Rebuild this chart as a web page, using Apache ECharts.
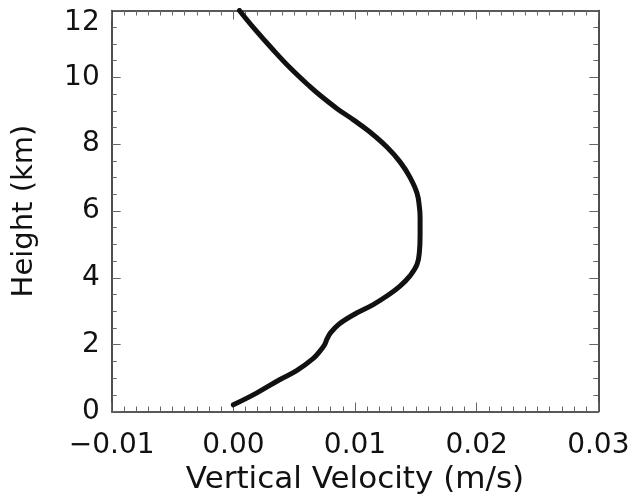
<!DOCTYPE html>
<html>
<head>
<meta charset="utf-8">
<script src="https://cdn.jsdelivr.net/npm/echarts@6/dist/echarts.min.js"></script>
<style>html,body{margin:0;padding:0;background:#fff;}#c{width:635px;height:503px;}</style>
</head>
<body>
<div id="c"></div>
<script>
// Data
var heights = [0.2, 0.55, 0.95, 1.22, 1.58, 1.8, 2.0, 2.17, 2.36, 2.62, 2.94, 3.2, 3.5, 3.75, 4.05, 4.4, 4.8, 5.3, 5.8, 6.1, 6.53, 7.02, 7.47, 7.92, 8.37, 8.72, 9.07, 9.47, 9.72, 10.27, 10.81, 11.51, 12.0];
var velocities = [0.0000, 0.0019, 0.0038, 0.0052, 0.00655, 0.0071, 0.0075, 0.0077, 0.0080, 0.0087, 0.0101, 0.0115, 0.0128, 0.0137, 0.0145, 0.0151, 0.0153, 0.01535, 0.01535, 0.0153, 0.0151, 0.0145, 0.0137, 0.0126, 0.0112, 0.0099, 0.0085, 0.0071, 0.0063, 0.0047, 0.0033, 0.0016, 0.0005];
var xTicks = [-0.01, 0.00, 0.01, 0.02, 0.03];
var yTicks = [0, 2, 4, 6, 8, 10, 12];
var xName = 'Vertical Velocity (m/s)';
var yName = 'Height (km)';

var pts = heights.map(function (h, i) { return [velocities[i], h]; });
var FONT = 'DejaVu Sans';
var axisLineStyle = { color: '#222', width: 1.6 };
var tickStyle = { color: '#666', width: 1 };

function xAxisCfg(pos, showLabels) {
  return {
    type: 'value', position: pos,
    min: xTicks[0], max: xTicks[xTicks.length - 1], interval: 0.01,
    name: showLabels ? xName : '', nameLocation: 'middle', nameGap: 53,
    nameTextStyle: { fontFamily: FONT, fontSize: 31, color: '#111' },
    axisLine: { show: true, onZero: false, lineStyle: axisLineStyle },
    axisTick: { show: true, inside: true, length: 9, lineStyle: tickStyle },
    minorTick: { show: true, splitNumber: 10, length: 5, lineStyle: tickStyle },
    splitLine: { show: false },
    axisLabel: {
      show: showLabels, margin: 20, fontFamily: FONT, fontSize: 28, color: '#111',
      formatter: function (v) { var s = Math.abs(v).toFixed(2); return (v < -1e-9 ? '\u2212' : '') + s; }
    }
  };
}
function yAxisCfg(pos, showLabels) {
  return {
    type: 'value', position: pos,
    min: yTicks[0], max: yTicks[yTicks.length - 1], interval: 2,
    name: showLabels ? yName : '', nameLocation: 'middle', nameGap: 73, nameRotate: 90,
    nameTextStyle: { fontFamily: FONT, fontSize: 29, color: '#111' },
    axisLine: { show: true, onZero: false, lineStyle: axisLineStyle },
    axisTick: { show: true, inside: true, length: 9, lineStyle: tickStyle },
    minorTick: { show: true, splitNumber: 4, length: 5, lineStyle: tickStyle },
    splitLine: { show: false },
    axisLabel: {
      show: showLabels, margin: 12, fontFamily: FONT, fontSize: 28, color: '#111',
      formatter: function (v) { return v === yTicks[yTicks.length - 1] ? '{top|' + v + '}' : String(v); },
      rich: { top: { fontFamily: FONT, fontSize: 28, color: '#111', padding: [24, 0, 0, 0] } }
    }
  };
}

var chart = echarts.init(document.getElementById('c'), null, { renderer: 'canvas' });
chart.setOption({
  animation: false,
  backgroundColor: '#fff',
  grid: { left: 111.7, right: 36.7, top: 10.5, bottom: 91.5, containLabel: false },
  xAxis: [xAxisCfg('bottom', true), xAxisCfg('top', false)],
  yAxis: [yAxisCfg('left', true), yAxisCfg('right', false)],
  series: [{
    type: 'line', xAxisIndex: 0, yAxisIndex: 0,
    data: pts, showSymbol: false, symbol: 'none', smooth: 0.4,
    lineStyle: { color: '#111', width: 5, cap: 'round' }
  }]
});
</script>
</body>
</html>
